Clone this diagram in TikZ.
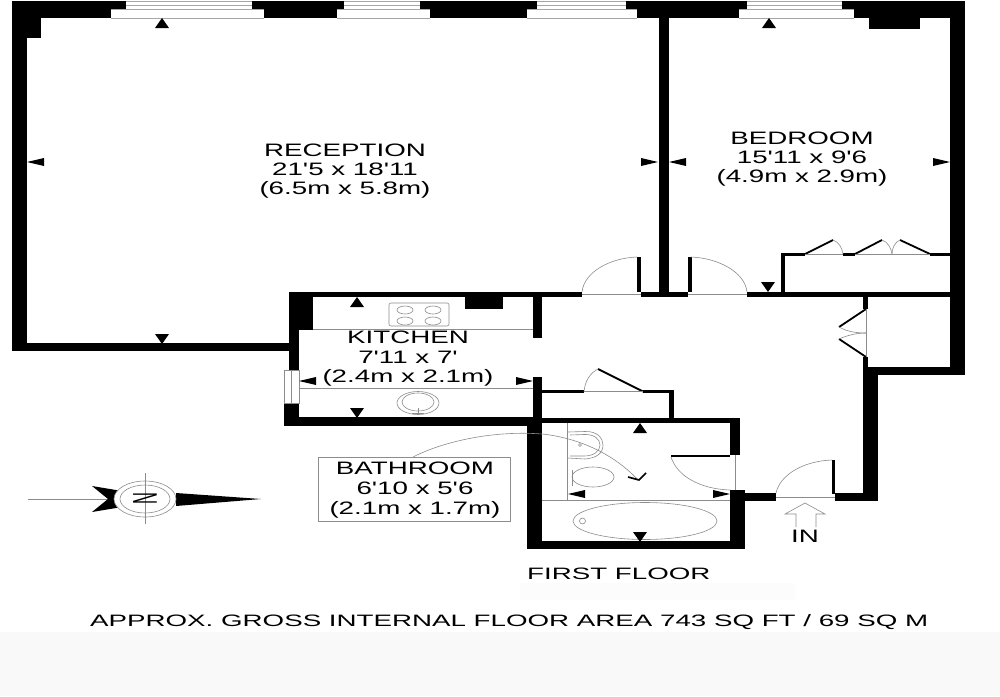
\documentclass[tikz,border=0pt]{standalone}
\usepackage{fontspec}
\setmainfont{Liberation Sans}
\newfontfamily\wideA[FakeStretch=1.54]{Liberation Sans}
\newfontfamily\wideB[FakeStretch=1.68]{Liberation Sans}
\tikzset{
  wall/.style={fill=black},
  fine/.style={draw=black!45,line width=0.6pt},
  leaf/.style={draw=black,line width=2.6pt},
  lbl/.style={font=\wideA\fontsize{18}{20}\selectfont,inner sep=0pt,anchor=base,text=black},
  floorlbl/.style={font=\wideB\fontsize{16.5}{18}\selectfont,inner sep=0pt,text=black,anchor=base west}
}
\newcommand{\tup}[2]{\fill[black] (#1-7,#2) -- (#1+7,#2) -- (#1,#2-10) -- cycle;}
\newcommand{\tdn}[2]{\fill[black] (#1-7,#2) -- (#1+7,#2) -- (#1,#2+10) -- cycle;}
\newcommand{\tlf}[2]{\fill[black] (#1,#2-4) -- (#1,#2+4) -- (#1-17,#2) -- cycle;}
\newcommand{\trt}[2]{\fill[black] (#1,#2-4) -- (#1,#2+4) -- (#1+17,#2) -- cycle;}
\begin{document}
\begin{tikzpicture}[x=1pt,y=-1pt]
\useasboundingbox (0,0) rectangle (1000,696);
\fill[white] (0,0) rectangle (1000,696);
\fill[black!2.5] (0,632) rectangle (1000,696);
\fill[black!1] (520,583) rectangle (795,600);
% outer walls
\fill[wall] (12,1) rectangle (965,18);
\fill[wall] (12,1) rectangle (27,351);
\fill[wall] (12,18) rectangle (41,38);
\fill[wall] (12,343) rectangle (291,351);
\fill[wall] (950,1) rectangle (965,375);
\fill[wall] (869,18) rectangle (920,29);
\fill[wall] (659,18) rectangle (669,297);
% windows
\foreach \a/\b/\c/\d in {126/252/111/264, 344/420/337/430, 537/626/527/637, 747/842/739/854}{
  \fill[white] (\a,0) rectangle (\b,9);
  \fill[white] (\c,9) rectangle (\d,18);
  \draw[black!35,line width=0.6pt] (\a,1) -- (\b,1) (\a,5) -- (\b,5) (\c,9) -- (\d,9) (\c,18) -- (\d,18);
}
% kitchen
\fill[wall] (289,292) rectangle (582,297);
\fill[wall] (289,292) rectangle (313,330);
\fill[wall] (289,330) rectangle (299,370);
\fill[wall] (284,403) rectangle (299,426);
\fill[wall] (284,417) rectangle (542,426);
\fill[wall] (465,297) rectangle (503,309);
\fill[wall] (533,297) rectangle (542,338);
\fill[wall] (533,377) rectangle (542,430);
\fill[white] (285,370) rectangle (299,403);
\draw[fine] (284.5,370) rectangle (299,403) (291.5,370) -- (291.5,403);
\draw[fine] (299,388) -- (533,388) (313,329.5) -- (533,329.5);
\draw[fine,rounded corners=2pt] (389,303) rectangle (449,326);
\foreach \x/\y in {405/310,433/310,405/321,433/321}{\draw[fine] (\x,\y) ellipse (8 and 4);}
\draw[fine] (418,403) ellipse (21 and 11.5);
\draw[fine] (418,402) ellipse (16 and 9);
\draw[fine] (412,413) -- (424,413) (418,408) -- (418,414);
% hall partitions
\fill[wall] (641,292) rectangle (688,297);
\fill[wall] (747,292) rectangle (950,297);
\fill[wall] (637,257) rectangle (640.5,292);
\fill[wall] (688,257) rectangle (691.5,292);
\draw[fine] (582,294.5) -- (641,294.5) (688,294.5) -- (747,294.5);
\draw[fine] (582,292) .. controls (584,272) and (610,258) .. (637,257);
\draw[fine] (691,257) .. controls (718,258) and (745,272) .. (747,292);
% wardrobe
\fill[wall] (781,253) rectangle (785,292);
\fill[wall] (781,253) rectangle (805,255.5);
\fill[wall] (843,253) rectangle (855,255.5);
\fill[wall] (930,253) rectangle (950,255.5);
\draw[leaf,line width=1.8pt] (805,254) -- (833,240);
\draw[leaf,line width=1.8pt] (855,254) -- (882,240);
\draw[leaf,line width=1.8pt] (900,240) -- (930,254);
\draw[fine] (805,254) -- (843,254) (855,254) -- (930,254);
\draw[fine] (833,240) .. controls (839,242) and (842,248) .. (843,254);
\draw[fine] (882,240) .. controls (888,242) and (891,248) .. (892,254);
\draw[fine] (900,240) .. controls (895,242) and (892,248) .. (892,254);
% cupboard
\fill[wall] (863,297) rectangle (868,309);
\fill[wall] (863,357) rectangle (868,375);
\fill[wall] (863,367) rectangle (965,375);
\fill[wall] (863,367) rectangle (878,501);
\draw[leaf,line width=1.8pt] (866,309) -- (839,327);
\draw[leaf,line width=1.8pt] (866,357) -- (839,339);
\draw[fine] (866,309) -- (866,357);
\draw[fine] (839,327) .. controls (848,332) and (857,333) .. (866,333);
\draw[fine] (839,339) .. controls (848,335) and (857,333) .. (866,333);
% closet
\fill[wall] (533,390) rectangle (584,392.5);
\fill[wall] (643,390) rectangle (673,392.5);
\fill[wall] (669,390) rectangle (674,420);
\draw[leaf,line width=2pt] (643,391.5) -- (598,369);
\draw[fine] (584,391.5) -- (643,391.5);
\draw[fine] (598,369) .. controls (590,373) and (585,381) .. (584,391.5);
% bathroom walls
\fill[wall] (533,418) rectangle (740,423);
\fill[wall] (527,423) rectangle (542,549);
\fill[wall] (730,418) rectangle (740,455);
\fill[wall] (730,490) rectangle (745,549);
\fill[wall] (527,541) rectangle (745,549);
\fill[wall] (671,455) rectangle (730,457);
\draw[fine] (735,455) -- (735,490);
\draw[fine] (671,457) .. controls (677,476) and (700,489) .. (730,490);
\draw[fine] (567.5,423) -- (567.5,500) (542,500) -- (730,500);
% basin, wc, bath
\draw[fine] (568,432) -- (585,431.5) .. controls (597,431) and (603,438) .. (603,445) .. controls (603,453) and (597,458) .. (585,459) -- (568,458);
\draw[fine] (570,435) -- (584,434.5) .. controls (594,434) and (600,439) .. (600,445) .. controls (600,451) and (594,456) .. (584,456) -- (570,456);
\draw[fine] (580,445) circle (1.5);
\draw[fine] (593,477) ellipse (21 and 10);
\draw[fine] (572,470) -- (572,486);
\draw[fine] (645,521) ellipse (72 and 18.5);
\draw[fine] (582.5,521) circle (3);
% hall / entrance walls
\fill[wall] (745,493) rectangle (776,501);
\fill[wall] (835,493) rectangle (878,501);
\fill[wall] (832,460) rectangle (835,494);
\draw[fine] (776,497) -- (835,497);
\draw[fine] (776,493) .. controls (780,475) and (803,461) .. (832,460);
% direction marks
\tup{162}{28}\tdn{162}{334}\tlf{44}{162}\trt{641}{162}
\tup{769}{28}\tlf{686}{162}\trt{933}{162}\tdn{768}{282}
\tup{357}{307}\tdn{357}{408}\tlf{316}{381}\trt{516}{381}
\tup{640}{433}\tdn{640}{532}\tlf{585}{494}\trt{713}{494}
% leader and tick
\draw[fine] (413,457) .. controls (440,443) and (490,430) .. (542,434) .. controls (580,438) and (615,455) .. (638,480);
\draw[leaf,line width=1.7pt] (628,477) -- (639,480) -- (646,473);
% bathroom label box
\node[fine,fill=white,minimum width=192pt,minimum height=64pt,inner sep=0pt] (bathbox) at (414,489) {};
\node[lbl] (reception) at (345,156) {RECEPTION};
\node[lbl] (receptiondim) at (345,175) {21'5 x 18'11};
\node[lbl] (receptionm) at (345,194) {(6.5m x 5.8m)};
\node[lbl] (bedroom) at (802,144) {BEDROOM};
\node[lbl] (bedroomdim) at (802,163) {15'11 x 9'6};
\node[lbl] (bedroomm) at (802,182) {(4.9m x 2.9m)};
\node[lbl] (kitchen) at (408,343) {KITCHEN};
\node[lbl] (kitchendim) at (408,363) {7'11 x 7'};
\node[lbl] (kitchenm) at (408,382) {(2.4m x 2.1m)};
\node[lbl] (bathroom) at (415,474) {BATHROOM};
\node[lbl] (bathroomdim) at (415,494) {6'10 x 5'6};
\node[lbl] (bathroomm) at (415,514) {(2.1m x 1.7m)};
% IN arrow
\draw[fine] (796,527) -- (796,514) -- (785,514) -- (805,503) -- (825,514) -- (816,514) -- (816,527);
\node[lbl] (in) at (805,542) {IN};
% compass
\draw[fine] (28,499) -- (115,499);
\fill[black] (176,493) -- (261,499) -- (176,506) -- cycle;
\fill[black] (92,486) -- (122,491) -- (116,499) -- (122,507) -- (92,512) -- (108,499) -- cycle;
\draw[fine,fill=white] (145,499) ellipse (31 and 18);
\draw[fine] (145,499) ellipse (25 and 14);
\draw[fine] (145,473) -- (145,524);
\node[inner sep=0pt,rotate=90,font=\fontsize{15}{15}\selectfont] (north) at (145,499) {\scalebox{1.1}[2.3]{N}};
% captions
\node[floorlbl] (floor) at (527,579) {FIRST FLOOR};
\node[floorlbl] (area) at (90,626) {APPROX. GROSS INTERNAL FLOOR AREA 743 SQ FT / 69 SQ M};
\end{tikzpicture}
\end{document}
